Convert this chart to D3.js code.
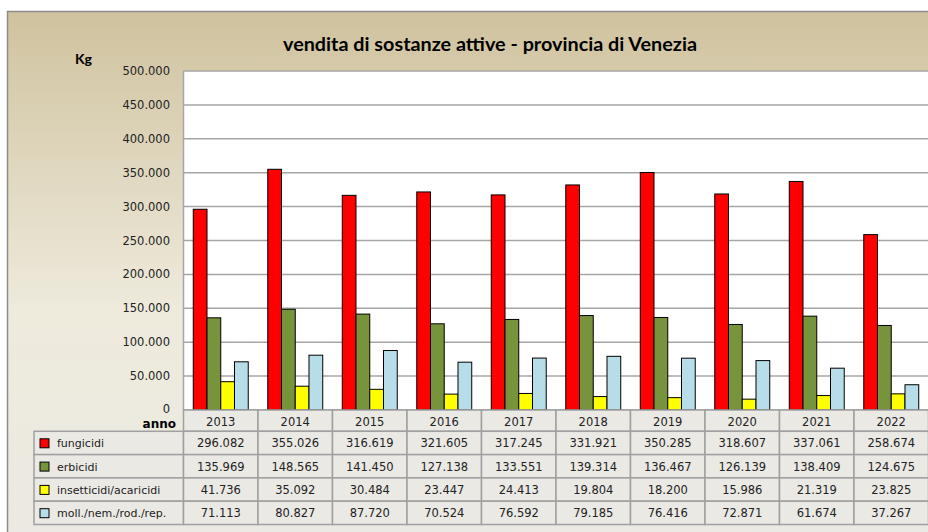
<!DOCTYPE html>
<html>
<head>
<meta charset="utf-8">
<script src="https://cdn.jsdelivr.net/npm/d3@7"></script>
<style>
  body { margin: 0; background: #fff; }
  svg { display: block; }
</style>
</head>
<body>
<div id="chart"></div>
<script>
// anni e serie (Kg)
var years = ["2013", "2014", "2015", "2016", "2017", "2018", "2019", "2020", "2021", "2022"];
var seriesNames = ["fungicidi", "erbicidi", "insetticidi/acaricidi", "moll./nem./rod./rep."];
var seriesColors = ["#ff0000", "#77933c", "#ffff00", "#b7dee8"];

var fungicidi   = [296082, 355026, 316619, 321605, 317245, 331921, 350285, 318607, 337061, 258674];
var erbicidi    = [135969, 148565, 141450, 127138, 133551, 139314, 136467, 126139, 138409, 124675];
var insetticidi = [41736, 35092, 30484, 23447, 24413, 19804, 18200, 15986, 21319, 23825];
var molluschi   = [71113, 80827, 87720, 70524, 76592, 79185, 76416, 72871, 61674, 37267];

var yTicks = [0, 50000, 100000, 150000, 200000, 250000, 300000, 350000, 400000, 450000, 500000];

var allSeries = [fungicidi, erbicidi, insetticidi, molluschi];

var width = 928, height = 532;
var plot = {left: 183.5, right: 928.5, top: 71, bottom: 410};
var rowH = 23.3;
var font = "'DejaVu Sans', Verdana, sans-serif";

var it = d3.formatLocale({decimal: ",", thousands: ".", grouping: [3], currency: ["€", ""]});
var fmt = it.format(",");

var svg = d3.select("#chart").append("svg")
  .attr("width", width)
  .attr("height", height);

// sfondo sfumato
var grad = svg.append("defs").append("linearGradient")
  .attr("id", "bg")
  .attr("x1", 0).attr("y1", 0).attr("x2", 0).attr("y2", 1);
grad.append("stop").attr("offset", "0%").attr("stop-color", "#cfc29e");
grad.append("stop").attr("offset", "55%").attr("stop-color", "#eeeadc");
grad.append("stop").attr("offset", "100%").attr("stop-color", "#ebe9e3");

svg.append("rect")
  .attr("x", 7.5).attr("y", 11.5)
  .attr("width", 940).attr("height", 540)
  .attr("fill", "url(#bg)")
  .attr("stroke", "#8c8c8c")
  .attr("stroke-width", 1.5);

var x = d3.scaleBand().domain(years).range([plot.left, plot.right]);
var xs = d3.scaleBand().domain(d3.range(4))
  .range([0, x.bandwidth()])
  .paddingOuter(0.71);
var y = d3.scaleLinear().domain([0, 500000]).range([plot.bottom, plot.top]);

// area del grafico
svg.append("rect")
  .attr("x", plot.left).attr("y", plot.top)
  .attr("width", plot.right - plot.left).attr("height", plot.bottom - plot.top)
  .attr("fill", "#fff");

svg.append("g")
  .selectAll("line")
  .data(yTicks)
  .join("line")
  .attr("x1", plot.left).attr("x2", plot.right)
  .attr("y1", d => y(d)).attr("y2", d => y(d))
  .attr("stroke", "#a6a6a6")
  .attr("stroke-width", 1.5);

svg.append("line")
  .attr("x1", plot.left).attr("x2", plot.left)
  .attr("y1", plot.top).attr("y2", plot.bottom)
  .attr("stroke", "#a6a6a6")
  .attr("stroke-width", 1.5);

// etichette asse y
svg.append("g")
  .selectAll("text")
  .data(yTicks)
  .join("text")
  .attr("x", 170)
  .attr("y", d => y(d) + (d === 0 ? 2.5 : 4))
  .attr("text-anchor", "end")
  .attr("font-family", font)
  .attr("font-size", 11.5)
  .attr("fill", "#222")
  .text(d => fmt(d));

svg.append("text")
  .attr("x", 75).attr("y", 64)
  .attr("font-family", "Lato, sans-serif")
  .attr("font-weight", "bold")
  .attr("font-size", 14)
  .text("Kg");

// barre
var groups = svg.append("g")
  .selectAll("g")
  .data(years)
  .join("g")
  .attr("transform", d => "translate(" + x(d) + ",0)");

groups.selectAll("rect")
  .data((yr, i) => allSeries.map((s, k) => ({k: k, v: s[i]})))
  .join("rect")
  .attr("x", d => xs(d.k))
  .attr("y", d => y(d.v))
  .attr("width", xs.bandwidth())
  .attr("height", d => plot.bottom - y(d.v))
  .attr("fill", d => seriesColors[d.k])
  .attr("stroke", "#000")
  .attr("stroke-width", 1);

// titolo
svg.append("text")
  .attr("x", 490).attr("y", 51)
  .attr("text-anchor", "middle")
  .attr("font-family", "Lato, sans-serif")
  .attr("font-weight", "bold")
  .attr("font-size", 19.8)
  .text("vendita di sostanze attive - provincia di Venezia");

// tabella dati
var table = svg.append("g");
var cellFill = "#ebe9e4", cellStroke = "#a0a0a0";

// riga degli anni
table.selectAll("rect.yr")
  .data(years)
  .join("rect")
  .attr("class", "yr")
  .attr("x", d => x(d)).attr("y", plot.bottom)
  .attr("width", x.bandwidth()).attr("height", rowH - 2)
  .attr("fill", cellFill)
  .attr("stroke", cellStroke)
  .attr("stroke-width", 1.5);

table.selectAll("text.yr")
  .data(years)
  .join("text")
  .attr("class", "yr")
  .attr("x", d => x(d) + x.bandwidth() / 2)
  .attr("y", plot.bottom + 15.5)
  .attr("text-anchor", "middle")
  .attr("font-family", font)
  .attr("font-size", 11.5)
  .attr("fill", "#222")
  .text(d => d);

svg.append("text")
  .attr("x", 176).attr("y", 428)
  .attr("text-anchor", "end")
  .attr("font-family", font)
  .attr("font-weight", "bold")
  .attr("font-size", 12)
  .text("anno");

var rowTop = plot.bottom + rowH - 2;
seriesNames.forEach(function(name, k) {
  var ry = rowTop + k * rowH;
  var row = table.append("g");
  row.append("rect")
    .attr("x", 34).attr("y", ry)
    .attr("width", plot.left - 34).attr("height", rowH)
    .attr("fill", cellFill)
    .attr("stroke", cellStroke)
    .attr("stroke-width", 1.5);
  row.append("rect")
    .attr("x", 40).attr("y", ry + 7.5)
    .attr("width", 9).attr("height", 9)
    .attr("fill", seriesColors[k])
    .attr("stroke", "#000");
  row.append("text")
    .attr("x", 57).attr("y", ry + 16)
    .attr("font-family", font)
    .attr("font-size", 11)
    .attr("fill", "#222")
    .text(name);
  row.selectAll("rect.val")
    .data(years)
    .join("rect")
    .attr("class", "val")
    .attr("x", d => x(d)).attr("y", ry)
    .attr("width", x.bandwidth()).attr("height", rowH)
    .attr("fill", cellFill)
    .attr("stroke", cellStroke)
    .attr("stroke-width", 1.5);
  row.selectAll("text.val")
    .data(allSeries[k])
    .join("text")
    .attr("class", "val")
    .attr("x", (d, i) => x(years[i]) + x.bandwidth() / 2)
    .attr("y", ry + 16)
    .attr("text-anchor", "middle")
    .attr("font-family", font)
    .attr("font-size", 11.5)
    .attr("fill", "#222")
    .text(d => fmt(d));
});
</script>
</body>
</html>
